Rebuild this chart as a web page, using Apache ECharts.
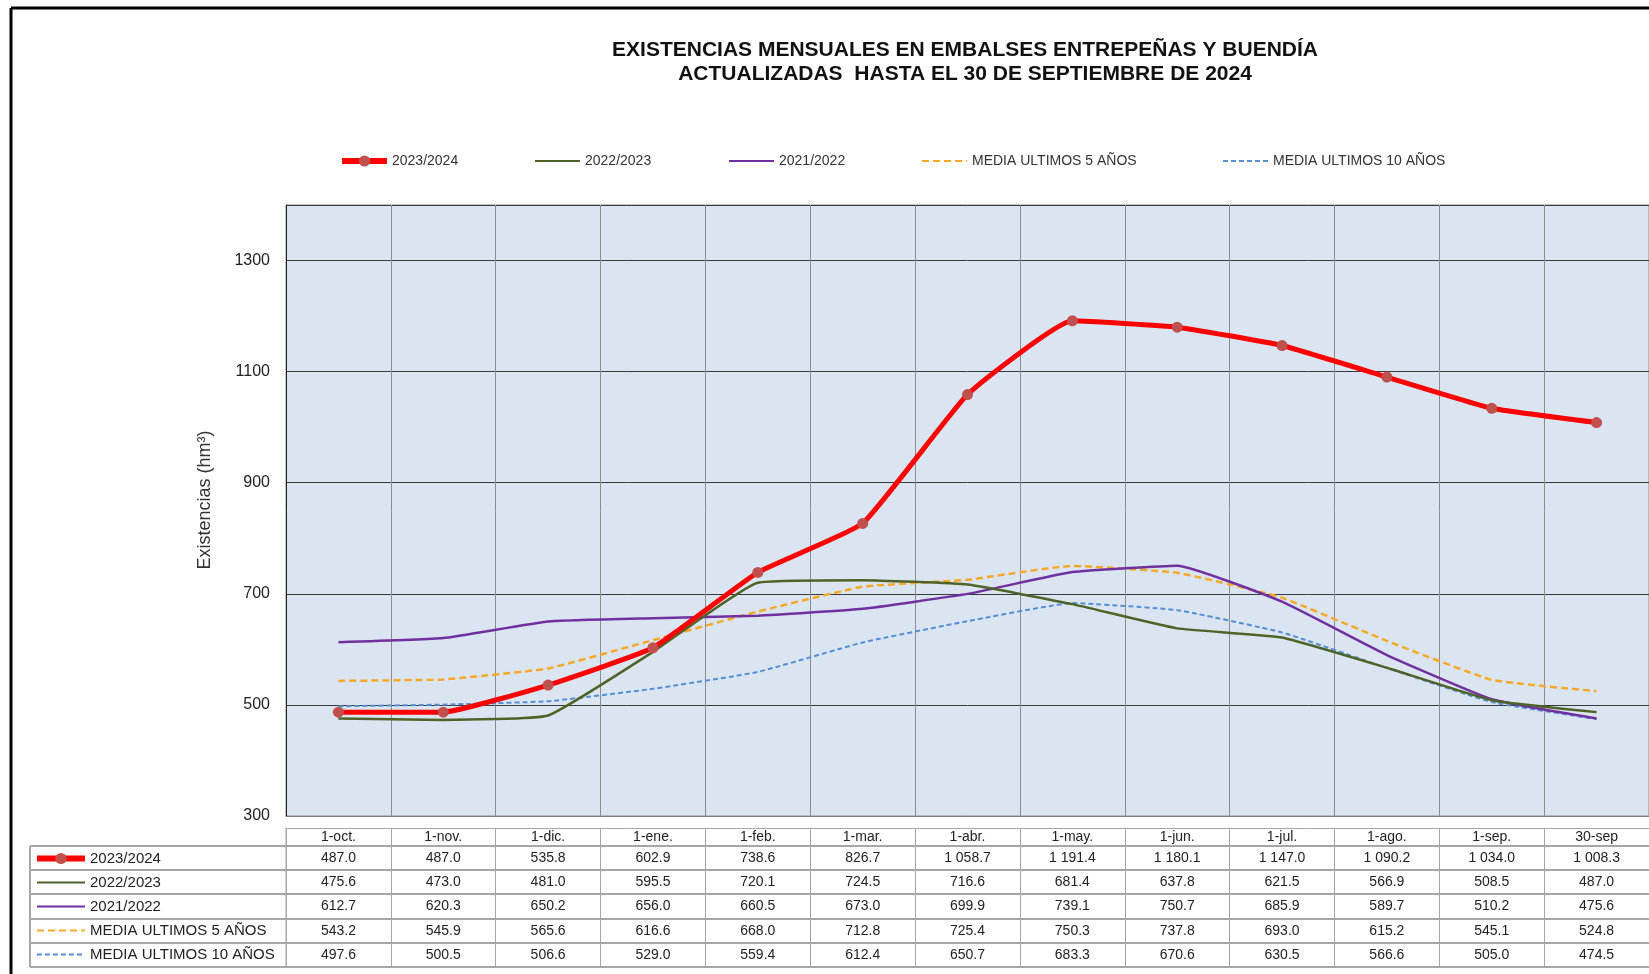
<!DOCTYPE html>
<html>
<head>
<meta charset="utf-8">
<title>Existencias mensuales Entrepeñas y Buendía</title>
<script src="https://cdn.jsdelivr.net/npm/echarts@6/dist/echarts.min.js"></script>
<style>
    html, body {margin: 0; padding: 0; background: #fff;}
    #chart {width: 1649px; height: 974px;}
</style>
</head>
<body>
<div id="chart"></div>
<script>
// datos
const categories = ['1-oct.', '1-nov.', '1-dic.', '1-ene.', '1-feb.', '1-mar.', '1-abr.', '1-may.', '1-jun.', '1-jul.', '1-ago.', '1-sep.', '30-sep'];
const seriesNames = ['2023/2024', '2022/2023', '2021/2022', 'MEDIA ULTIMOS 5 AÑOS', 'MEDIA ULTIMOS 10 AÑOS'];
const values2324 = [487.0, 487.0, 535.8, 602.9, 738.6, 826.7, 1058.7, 1191.4, 1180.1, 1147.0, 1090.2, 1034.0, 1008.3];
const values2223 = [475.6, 473.0, 481.0, 595.5, 720.1, 724.5, 716.6, 681.4, 637.8, 621.5, 566.9, 508.5, 487.0];
const values2122 = [612.7, 620.3, 650.2, 656.0, 660.5, 673.0, 699.9, 739.1, 750.7, 685.9, 589.7, 510.2, 475.6];
const media5 = [543.2, 545.9, 565.6, 616.6, 668.0, 712.8, 725.4, 750.3, 737.8, 693.0, 615.2, 545.1, 524.8];
const media10 = [497.6, 500.5, 506.6, 529.0, 559.4, 612.4, 650.7, 683.3, 670.6, 630.5, 566.6, 505.0, 474.5];
const yTicks = [300, 500, 700, 900, 1100, 1300];

// layout
const gridLeft = 286;
const gridTop = 205;
const gridBottomY = 816;
const headerTop = 828;
const rowTop = 846;
const rowH = 24.2;
const tableLeft = 30;
const lineGray = '#a6a6a6';
const font = 'Liberation Sans, Arial, sans-serif';
const smooth = 0.12;

// 1 058.7
const fmt = v => {
    const s = v.toFixed(1);
    const [i, d] = s.split('.');
    return i.replace(/\B(?=(\d{3})+(?!\d))/g, ' ') + '.' + d;
};

const chart = echarts.init(document.getElementById('chart'));

// filas de la tabla como ejes x extra
const tableRows = [values2324, values2223, values2122, media5, media10];
const tableAxes = tableRows.map((row, k) => ({
    type: 'category',
    gridIndex: 0,
    position: 'bottom',
    offset: Math.round(rowTop + k * rowH - gridBottomY),
    data: row.map(fmt),
    axisLine: {show: true, lineStyle: {color: lineGray, width: 2}},
    axisTick: {show: true, interval: 0, length: Math.round(rowH), lineStyle: {color: lineGray, width: 1}},
    axisLabel: {show: true, interval: 0, margin: 5, fontSize: 14, color: '#222', fontFamily: font},
    splitLine: {show: false},
}));

const headerAxis = {
    type: 'category',
    gridIndex: 0,
    position: 'bottom',
    offset: headerTop - gridBottomY,
    data: categories,
    axisLine: {show: true, lineStyle: {color: lineGray, width: 1}},
    axisTick: {show: true, interval: 0, length: rowTop - headerTop, lineStyle: {color: lineGray, width: 1}},
    axisLabel: {show: true, interval: 0, margin: 2, fontSize: 14, color: '#222', fontFamily: font},
    splitLine: {show: false},
};

const bottomAxis = {
    type: 'category',
    gridIndex: 0,
    position: 'bottom',
    offset: Math.round(rowTop + 5 * rowH - gridBottomY),
    data: categories,
    axisLine: {show: true, lineStyle: {color: lineGray, width: 2}},
    axisTick: {show: false},
    axisLabel: {show: false},
};

// iconos de leyenda: línea gruesa con punto solo para 2023/2024
const legendItem = name => name === seriesNames[0]
    ? {name, lineStyle: {width: 6}, itemStyle: {color: '#c0504d'}}
    : {name, itemStyle: {opacity: 0}};

// leyenda superior, una por elemento para fijar posiciones
const legendLeft = [339, 534, 728, 921, 1222];
const topLegends = seriesNames.map((name, i) => ({
    data: [legendItem(name)],
    left: legendLeft[i],
    top: 154,
    padding: 0,
    itemWidth: 45,
    itemHeight: 14,
    itemGap: 4,
    textStyle: {fontSize: 14, color: '#333', fontFamily: font},
}));

const tableLegend = {
    data: seriesNames.map(legendItem),
    orient: 'vertical',
    left: tableLeft + 4,
    top: rowTop + 5,
    height: 130,
    padding: 0,
    itemWidth: 48,
    itemHeight: 14,
    itemGap: 9,
    textStyle: {fontSize: 15, color: '#222', fontFamily: font},
};

const rowLines = [0, 1, 2, 3, 4, 5].map(k => ({
    type: 'line',
    shape: {x1: tableLeft, y1: Math.round(rowTop + k * rowH), x2: gridLeft, y2: Math.round(rowTop + k * rowH)},
    style: {stroke: lineGray, lineWidth: 2},
}));

const option = {
    backgroundColor: '#fff',
    animation: false,
    title: {
        text: 'EXISTENCIAS MENSUALES EN EMBALSES ENTREPEÑAS Y BUENDÍA\nACTUALIZADAS  HASTA EL 30 DE SEPTIEMBRE DE 2024',
        left: 960,
        textAlign: 'center',
        top: 33,
        textStyle: {fontSize: 21, fontWeight: 'bold', color: '#111', fontFamily: font, lineHeight: 24},
    },
    legend: [...topLegends, tableLegend],
    grid: {
        left: gridLeft,
        top: gridTop,
        right: 0,
        bottom: 974 - gridBottomY,
        show: true,
        backgroundColor: '#dbe5f1',
        borderColor: '#8c8c8c',
        borderWidth: 1,
    },
    xAxis: [
        {
            type: 'category',
            data: categories,
            boundaryGap: true,
            axisLine: {show: true, lineStyle: {color: '#7f7f7f'}},
            axisTick: {show: false},
            axisLabel: {show: false},
            splitLine: {show: true, interval: 0, lineStyle: {color: '#8c8c8c', width: 1}},
        },
        headerAxis,
        ...tableAxes,
        bottomAxis,
    ],
    yAxis: {
        type: 'value',
        min: yTicks[0],
        max: 1400,
        interval: 200,
        name: 'Existencias (hm³)',
        nameLocation: 'middle',
        nameRotate: 90,
        nameGap: 72,
        nameTextStyle: {fontSize: 18, color: '#333', fontFamily: font, padding: [0, 0, 0, 21]},
        axisLine: {show: true, lineStyle: {color: '#222', width: 1}},
        axisTick: {show: false},
        axisLabel: {
            fontSize: 16, color: '#222', margin: 16, fontFamily: font,
            formatter: v => (yTicks.indexOf(v) >= 0 ? String(v) : ''),
        },
        splitLine: {show: true, lineStyle: {color: '#3a3a3a', width: 1}},
    },
    series: [
        {
            name: '2023/2024',
            type: 'line',
            data: values2324,
            smooth,
            z: 10,
            symbol: 'circle',
            symbolSize: 11,
            lineStyle: {color: '#ff0000', width: 5},
            itemStyle: {color: '#c0504d'},
        },
        {
            name: '2022/2023',
            type: 'line',
            data: values2223,
            smooth,
            z: 6,
            symbol: 'none',
            lineStyle: {color: '#4f6228', width: 2.5},
            itemStyle: {color: '#4f6228'},
        },
        {
            name: '2021/2022',
            type: 'line',
            data: values2122,
            smooth,
            z: 5,
            symbol: 'none',
            lineStyle: {color: '#7030a0', width: 2.5},
            itemStyle: {color: '#7030a0'},
        },
        {
            name: 'MEDIA ULTIMOS 5 AÑOS',
            type: 'line',
            data: media5,
            smooth,
            z: 4,
            symbol: 'none',
            lineStyle: {color: '#f5a92a', width: 2.5, type: [7, 4]},
            itemStyle: {color: '#f5a92a'},
        },
        {
            name: 'MEDIA ULTIMOS 10 AÑOS',
            type: 'line',
            data: media10,
            smooth,
            z: 3,
            symbol: 'none',
            lineStyle: {color: '#558ed5', width: 2, type: [5, 3]},
            itemStyle: {color: '#558ed5'},
        },
    ],
    graphic: [
        // marco exterior
        {type: 'line', shape: {x1: 11, y1: 8, x2: 1649, y2: 8}, style: {stroke: '#000', lineWidth: 3}},
        {type: 'line', shape: {x1: 11, y1: 8, x2: 11, y2: 974}, style: {stroke: '#000', lineWidth: 3}},
        // columna de nombres de la tabla
        ...rowLines,
        {type: 'line', shape: {x1: tableLeft, y1: rowTop, x2: tableLeft, y2: Math.round(rowTop + 5 * rowH)}, style: {stroke: lineGray, lineWidth: 2}},
        {type: 'line', shape: {x1: gridLeft, y1: headerTop, x2: gridLeft, y2: Math.round(rowTop + 5 * rowH)}, style: {stroke: lineGray, lineWidth: 1}},
    ],
};

chart.setOption(option);
</script>
</body>
</html>
